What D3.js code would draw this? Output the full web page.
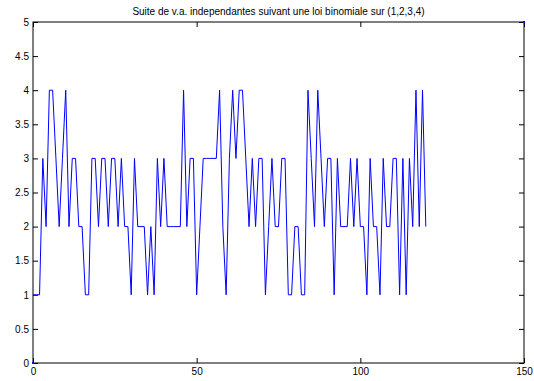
<!DOCTYPE html>
<html>
<head>
<meta charset="utf-8">
<script src="https://cdn.jsdelivr.net/npm/d3@7"></script>
<style>
  body { margin: 0; background: #fff; }
  text { font-family: "Liberation Sans", Arial, sans-serif; }
</style>
</head>
<body>
<script>
// tirage : valeurs, x = 0..120
const values = [1,1,1,3,2,4,4,3,2,3,4,2,3,3,2,2,1,1,3,3,
  2,3,3,2,3,3,2,3,2,2,1,3,2,2,2,1,2,1,3,2,
  3,2,2,2,2,2,4,2,3,3,1,2,3,3,3,3,3,4,2,1,
  3,4,3,4,4,3,2,3,2,3,3,1,2,3,2,2,3,3,1,1,
  2,2,1,1,4,3,2,4,3,2,3,3,1,3,2,2,2,3,2,3,
  2,2,1,3,2,2,1,3,2,2,3,3,1,3,1,3,2,4,2,4,2];
const xTicks = [0, 50, 100, 150];
const yTicks = [0, 0.5, 1, 1.5, 2, 2.5, 3, 3.5, 4, 4.5, 5];
const cornerX = [0, 150];
const cornerY = [0, 5];
const title = "Suite de v.a. independantes suivant une loi binomiale sur (1,2,3,4)";

const width = 534;
const height = 381;
const mLeft = 33, mRight = 524, mTop = 22, mBottom = 363;

const svg = d3.select("body")
  .append("svg")
  .attr("width", width)
  .attr("height", height);

const x = d3.scaleLinear().domain([0, 150]).range([mLeft, mRight]);
const y = d3.scaleLinear().domain([0, 5]).range([mBottom, mTop]);

// axes, ticks vers l'interieur (style matlab)
const tickLen = 5;
svg.append("g")
  .attr("transform", `translate(0,${mBottom})`)
  .call(d3.axisBottom(x).tickValues(xTicks).tickSizeInner(-tickLen).tickSizeOuter(0).tickPadding(5))
  .call(g => g.select(".domain").remove());
svg.append("g")
  .attr("transform", `translate(0,${mTop})`)
  .call(d3.axisTop(x).tickValues(xTicks).tickSizeInner(-tickLen).tickSizeOuter(0).tickFormat(""))
  .call(g => g.select(".domain").remove());
svg.append("g")
  .attr("transform", `translate(${mLeft},0)`)
  .call(d3.axisLeft(y).tickValues(yTicks).tickSizeInner(-tickLen).tickSizeOuter(0).tickPadding(4).tickFormat(d3.format("")))
  .call(g => g.select(".domain").remove());
svg.append("g")
  .attr("transform", `translate(${mRight},0)`)
  .call(d3.axisRight(y).tickValues(yTicks).tickSizeInner(-tickLen).tickSizeOuter(0).tickFormat(""))
  .call(g => g.select(".domain").remove());

svg.selectAll(".tick line").attr("stroke", "#000");
svg.selectAll(".tick text")
  .attr("fill", "#000")
  .style("font-size", "10px");

svg.append("rect")
  .attr("x", mLeft)
  .attr("y", mTop)
  .attr("width", mRight - mLeft)
  .attr("height", mBottom - mTop)
  .attr("fill", "none")
  .attr("stroke", "#000")
  .attr("stroke-width", 1);

const line = d3.line()
  .x((d, i) => x(i))
  .y(d => y(d));

svg.append("path")
  .datum(values)
  .attr("d", line)
  .attr("fill", "none")
  .attr("stroke", "#0000ff")
  .attr("stroke-width", 1);

svg.selectAll(".corner")
  .data(cornerX)
  .enter()
  .append("rect")
  .attr("class", "corner")
  .attr("x", (d, i) => x(d) - 1)
  .attr("y", (d, i) => y(cornerY[i]) - 1)
  .attr("width", 2)
  .attr("height", 2)
  .attr("fill", "#0000ff");

svg.append("text")
  .attr("x", (mLeft + mRight) / 2)
  .attr("y", 15)
  .attr("text-anchor", "middle")
  .style("font-size", "10px")
  .text(title);
</script>
</body>
</html>
